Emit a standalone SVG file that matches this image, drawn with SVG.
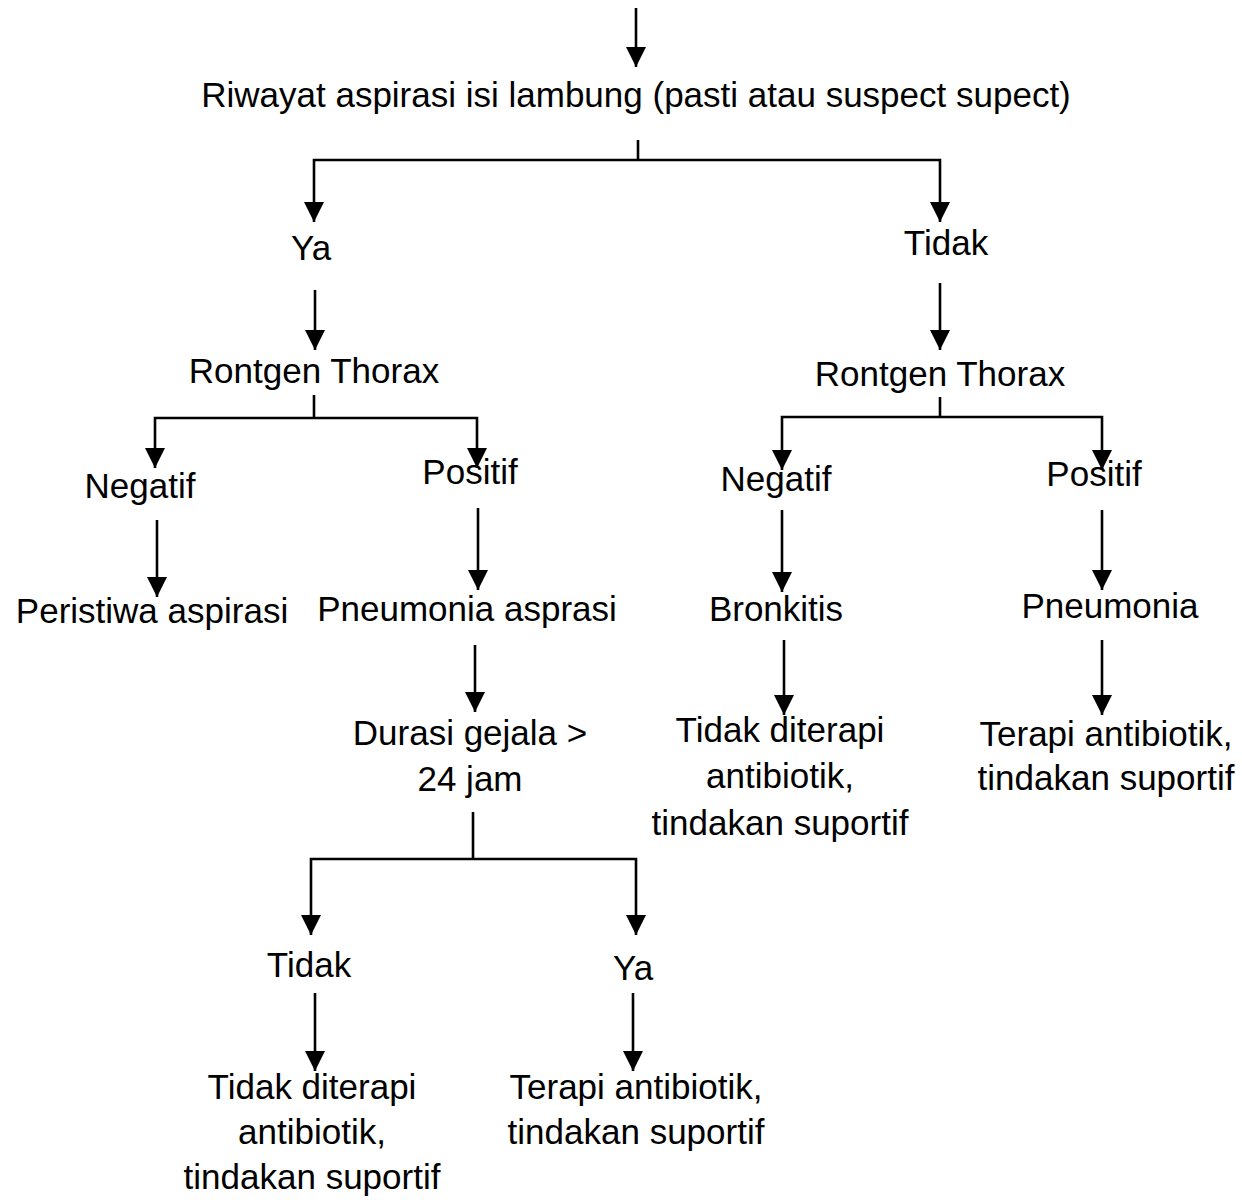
<svg xmlns="http://www.w3.org/2000/svg" width="1242" height="1200" viewBox="0 0 1242 1200">
<style>
  text { font-family: "Liberation Sans", Arial, sans-serif; font-size: 35px; fill: #000; text-anchor: middle; }
  .c { stroke: #000; stroke-width: 2.6; fill: none; }
  .a { marker-end: url(#ah); }
</style>
<defs>
  <marker id="ah" markerUnits="userSpaceOnUse" markerWidth="20" markerHeight="20" refX="20" refY="10" orient="auto">
    <path d="M0,0 L20,10 L0,20 Z" fill="#000"/>
  </marker>
</defs>
<rect width="1242" height="1200" fill="#fff"/>
<g id="connectors">
  <line class="c a" x1="636" y1="8" x2="636" y2="67"/>
  <polyline class="c" points="638,140 638,160"/>
  <polyline class="c a" points="638,160 314,160 314,222"/>
  <polyline class="c a" points="638,160 940,160 940,222"/>
  <line class="c a" x1="315" y1="290" x2="315" y2="350"/>
  <line class="c a" x1="940" y1="283" x2="940" y2="350"/>
  <polyline class="c" points="314,395 314,418"/>
  <polyline class="c a" points="314,418 155,418 155,468"/>
  <polyline class="c a" points="314,418 477,418 477,468"/>
  <polyline class="c" points="940,397 940,417"/>
  <polyline class="c a" points="940,417 782,417 782,470"/>
  <polyline class="c a" points="940,417 1102,417 1102,470"/>
  <line class="c a" x1="157" y1="520" x2="157" y2="597"/>
  <line class="c a" x1="478" y1="508" x2="478" y2="590"/>
  <line class="c a" x1="782" y1="510" x2="782" y2="592"/>
  <line class="c a" x1="1102" y1="510" x2="1102" y2="590"/>
  <line class="c a" x1="475" y1="645" x2="475" y2="712"/>
  <line class="c a" x1="784" y1="640" x2="784" y2="715"/>
  <line class="c a" x1="1102" y1="640" x2="1102" y2="715"/>
  <polyline class="c" points="473,812 473,859"/>
  <polyline class="c a" points="473,859 311,859 311,935"/>
  <polyline class="c a" points="473,859 636,859 636,935"/>
  <line class="c a" x1="315" y1="993" x2="315" y2="1071"/>
  <line class="c a" x1="633" y1="993" x2="633" y2="1071"/>
</g>
<g id="n-riwayat"><text x="636" y="107">Riwayat aspirasi isi lambung (pasti atau suspect supect)</text></g>
<g id="n-ya"><text x="311" y="260">Ya</text></g>
<g id="n-tidak"><text x="946" y="255">Tidak</text></g>
<g id="n-rontgen-l"><text x="314" y="383">Rontgen Thorax</text></g>
<g id="n-rontgen-r"><text x="940" y="386">Rontgen Thorax</text></g>
<g id="n-negatif-l"><text x="140" y="498">Negatif</text></g>
<g id="n-positif-l"><text x="470" y="484">Positif</text></g>
<g id="n-negatif-r"><text x="776" y="491">Negatif</text></g>
<g id="n-positif-r"><text x="1094" y="486">Positif</text></g>
<g id="n-peristiwa"><text x="152" y="623">Peristiwa aspirasi</text></g>
<g id="n-pneumonia-asprasi"><text x="467" y="621">Pneumonia asprasi</text></g>
<g id="n-bronkitis"><text x="776" y="621">Bronkitis</text></g>
<g id="n-pneumonia"><text x="1110" y="618">Pneumonia</text></g>
<g id="n-durasi"><text x="470" y="745">Durasi gejala &gt;</text><text x="470" y="791">24 jam</text></g>
<g id="n-tidak-terapi-r"><text x="780" y="742">Tidak diterapi</text><text x="780" y="788">antibiotik,</text><text x="780" y="835">tindakan suportif</text></g>
<g id="n-terapi-r"><text x="1106" y="746">Terapi antibiotik,</text><text x="1106" y="790">tindakan suportif</text></g>
<g id="n-tidak2"><text x="309" y="977">Tidak</text></g>
<g id="n-ya2"><text x="633" y="980">Ya</text></g>
<g id="n-tidak-terapi-b"><text x="312" y="1099">Tidak diterapi</text><text x="312" y="1144">antibiotik,</text><text x="312" y="1189">tindakan suportif</text></g>
<g id="n-terapi-b"><text x="636" y="1099">Terapi antibiotik,</text><text x="636" y="1144">tindakan suportif</text></g>
</svg>
